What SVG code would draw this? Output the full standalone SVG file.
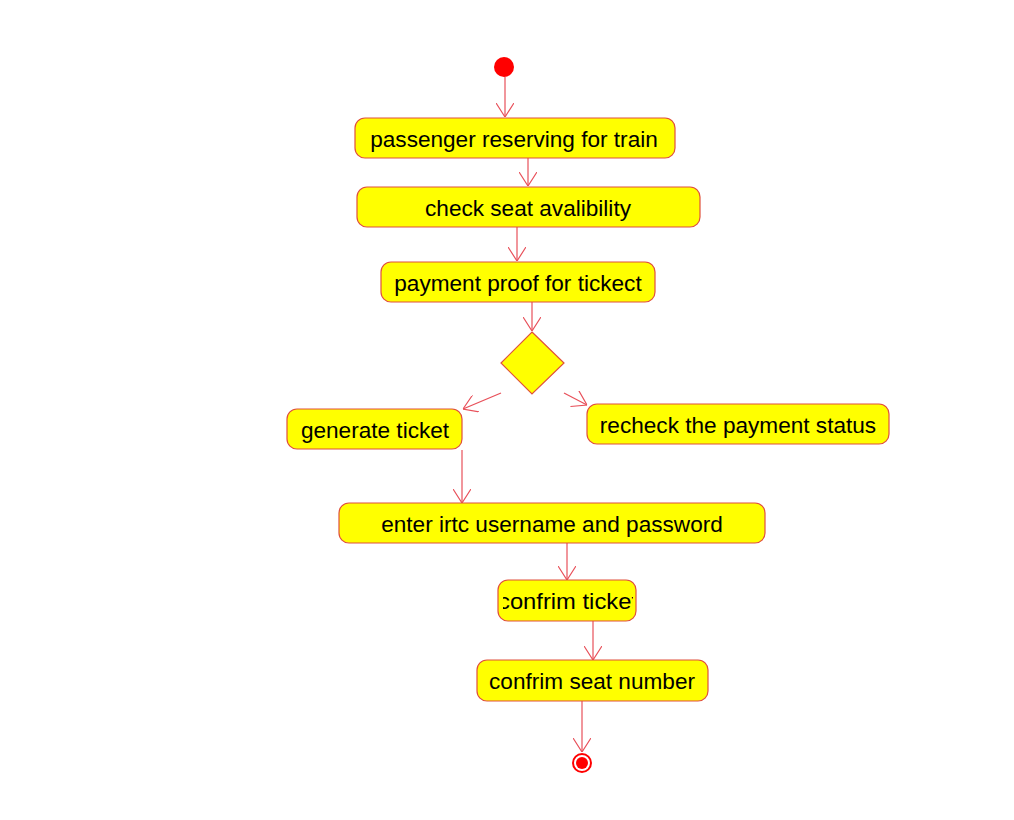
<svg xmlns="http://www.w3.org/2000/svg" width="1014" height="820" viewBox="0 0 1014 820">
<defs>
<style>
.node rect{fill:#ffff00;stroke:#e0503c;stroke-width:1.2}
.node text{font-family:"Liberation Sans",Arial,sans-serif;font-size:22.6px;fill:#000;text-anchor:middle}
.conn line{stroke:#e8505a;stroke-width:1.2;fill:none;marker-end:url(#arr)}
</style>
<marker id="arr" viewBox="0 0 14 18" refX="14" refY="9" markerWidth="14" markerHeight="18" markerUnits="userSpaceOnUse" orient="auto">
<path d="M0,0 L14,9 L0,18" fill="none" stroke="#e8505a" stroke-width="1.2"/>
</marker>
<clipPath id="clipCT"><rect x="503" y="580" width="130" height="41"/></clipPath>
</defs>
<rect width="1014" height="820" fill="#fff"/>
<g id="connectors" class="conn">
<line x1="505" y1="77" x2="505" y2="117"/>
<line x1="528" y1="158" x2="528" y2="186"/>
<line x1="517" y1="227" x2="517" y2="261"/>
<line x1="532" y1="302" x2="532" y2="331"/>
<line x1="501" y1="393" x2="463" y2="409"/>
<line x1="564" y1="393" x2="587" y2="405"/>
<line x1="462" y1="450" x2="462" y2="503"/>
<line x1="567" y1="543" x2="567" y2="580"/>
<line x1="593" y1="621" x2="593" y2="660"/>
<line x1="582" y1="701" x2="582" y2="752"/>
</g>
<g id="start"><circle cx="504" cy="67" r="10" fill="#ff0000"/></g>
<g id="n1" class="node"><rect x="355" y="118" width="320" height="40" rx="10"/><text x="514" y="146.5">passenger reserving for train</text></g>
<g id="n2" class="node"><rect x="357" y="187" width="343" height="40" rx="10"/><text x="528" y="215.5">check seat avalibility</text></g>
<g id="n3" class="node"><rect x="381" y="262" width="274" height="40" rx="10"/><text x="518" y="290.5">payment proof for tickect</text></g>
<g id="decision"><polygon points="532,332 564,363 532,394 501,363" fill="#ffff00" stroke="#e0503c" stroke-width="1.2"/></g>
<g id="n4" class="node"><rect x="287" y="409" width="175" height="40" rx="10"/><text x="375" y="437.5">generate ticket</text></g>
<g id="n5" class="node"><rect x="587" y="404" width="302" height="40" rx="10"/><text x="738" y="432.5">recheck the payment status</text></g>
<g id="n6" class="node"><rect x="339" y="503" width="426" height="40" rx="10"/><text x="552" y="531.5">enter irtc username and password</text></g>
<g id="n7" class="node"><rect x="498" y="580" width="138" height="41" rx="10"/><text x="568" y="609" clip-path="url(#clipCT)" textLength="140" lengthAdjust="spacingAndGlyphs">confrim ticket</text></g>
<g id="n8" class="node"><rect x="477" y="660" width="231" height="41" rx="10"/><text x="592" y="689">confrim seat number</text></g>
<g id="end"><circle cx="582" cy="763" r="9" fill="#fff" stroke="#ff0000" stroke-width="2"/><circle cx="582" cy="763" r="6" fill="#ff0000"/></g>
</svg>
